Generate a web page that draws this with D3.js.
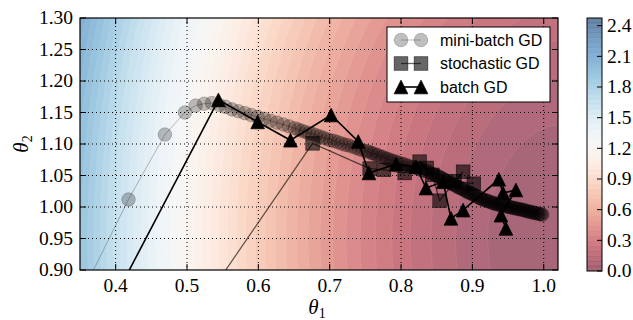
<!DOCTYPE html>
<html>
<head>
<meta charset="utf-8">
<script src="https://cdn.jsdelivr.net/npm/d3@7"></script>
<style>
  body { margin: 0; background: #fff; }
  svg { display: block; }
</style>
</head>
<body>
<div id="chart"></div>
<script>
// Gradient descent paths over a cost surface (theta1, theta2)

const xTicks    = [0.4, 0.5, 0.6, 0.7, 0.8, 0.9, 1.0];
const yTicks    = [0.90, 0.95, 1.00, 1.05, 1.10, 1.15, 1.20, 1.25, 1.30];
const cbarTicks = [0.0, 0.3, 0.6, 0.9, 1.2, 1.5, 1.8, 2.1, 2.4];

// cost surface: quadratic bowl
const costCenter  = [1.03, 0.95];
const costWeights = [4.2, 1.5];
const nLevels     = 50;
const levelMax    = 2.475;

const seriesNames = ["mini-batch GD", "stochastic GD", "batch GD"];

// [theta1, theta2]
const miniBatch = [
  [0.347,0.850],[0.418,1.012],[0.469,1.115],[0.497,1.150],[0.512,1.161],[0.524,1.164],[0.535,1.165],
  [0.545,1.162],[0.554,1.159],[0.563,1.155],[0.572,1.152],[0.581,1.149],[0.590,1.146],[0.599,1.143],
  [0.608,1.140],[0.617,1.137],[0.626,1.134],[0.635,1.131],[0.643,1.128],[0.651,1.125],
  [0.656,1.123],[0.661,1.121],[0.666,1.119],[0.671,1.117],[0.676,1.116],[0.681,1.114],[0.686,1.112],
  [0.691,1.110],[0.696,1.108],[0.701,1.106],[0.706,1.105],[0.711,1.103],[0.716,1.101],[0.721,1.099],
  [0.726,1.098],[0.731,1.096],[0.736,1.094],[0.741,1.092],[0.746,1.090],[0.751,1.089],
  [0.754,1.088],[0.758,1.086],[0.761,1.085],[0.765,1.083],[0.768,1.082],[0.772,1.080],[0.775,1.079],
  [0.779,1.077],[0.782,1.076],[0.786,1.074],[0.789,1.073],[0.793,1.072],[0.796,1.070],[0.800,1.069],
  [0.803,1.068],[0.807,1.067],[0.810,1.065],[0.814,1.064],[0.817,1.063],[0.821,1.062],[0.824,1.061],
  [0.828,1.059],[0.831,1.058],[0.835,1.057],[0.838,1.056],[0.842,1.054],[0.845,1.052],[0.849,1.050],
  [0.851,1.049],[0.853,1.048],[0.855,1.047],[0.857,1.046],[0.859,1.044],[0.861,1.043],[0.863,1.042],
  [0.865,1.041],[0.867,1.039],[0.869,1.038],[0.871,1.037],[0.873,1.036],[0.875,1.035],[0.877,1.034],
  [0.879,1.032],[0.881,1.031],[0.883,1.030],[0.885,1.029],[0.887,1.028],[0.889,1.027],[0.891,1.025],
  [0.893,1.024],[0.895,1.023],[0.897,1.022],[0.899,1.021],[0.901,1.020],[0.903,1.019],[0.905,1.018],
  [0.907,1.016],[0.909,1.015],[0.911,1.014],[0.913,1.013],[0.915,1.012],[0.917,1.011],[0.919,1.010],
  [0.921,1.010],[0.923,1.009],[0.925,1.008],[0.927,1.007],[0.929,1.006],[0.931,1.006],[0.933,1.005],
  [0.935,1.004],[0.937,1.004],[0.939,1.003],[0.941,1.003],[0.943,1.002],[0.945,1.002],[0.947,1.001],
  [0.949,1.001],[0.951,1.000],[0.953,1.000],[0.955,0.999],[0.957,0.999],[0.959,0.998],[0.961,0.998],
  [0.963,0.997],[0.965,0.997],[0.967,0.996],[0.969,0.996],[0.971,0.995],[0.973,0.995],[0.975,0.994],
  [0.977,0.993],[0.979,0.993],[0.981,0.992],[0.983,0.992],[0.985,0.991],[0.987,0.991],[0.989,0.990],
  [0.991,0.990],[0.993,0.989],[0.995,0.989],[0.997,0.988],[0.998,0.988]
];

const stochastic = [
  [0.524,0.850],[0.676,1.101],[0.756,1.061],[0.776,1.059],[0.805,1.054],[0.826,1.072],
  [0.836,1.062],[0.844,1.051],[0.854,1.010],[0.887,1.056],[0.875,1.041],[0.902,1.037]
];

const batch = [
  [0.396,0.850],[0.544,1.170],[0.599,1.135],[0.645,1.106],[0.702,1.146],[0.740,1.104],
  [0.755,1.054],[0.793,1.068],[0.821,1.064],[0.835,1.030],[0.859,1.040],[0.870,0.982],
  [0.887,0.995],[0.937,1.044],[0.943,1.022],[0.961,1.027],[0.940,0.987],[0.947,0.966]
];

const W = 633, H = 320;
const plot = { left: 80, right: 558, top: 18, bottom: 270 };
const pw = plot.right - plot.left, ph = plot.bottom - plot.top;

const serif = "'Liberation Serif', 'Times New Roman', serif";
const sans  = "'Liberation Sans', Arial, sans-serif";

const x = d3.scaleLinear().domain([0.35, 1.02]).range([plot.left, plot.right]);
const y = d3.scaleLinear().domain([0.90, 1.30]).range([plot.bottom, plot.top]);

const alpha = 0.6;
function levelColor(t) {
  const c = d3.rgb(d3.interpolateRdBu(t));
  return d3.rgb(
    c.r * alpha + 255 * (1 - alpha),
    c.g * alpha + 255 * (1 - alpha),
    c.b * alpha + 255 * (1 - alpha)
  ).formatHex();
}

function cost(t1, t2) {
  return costWeights[0] * (t1 - costCenter[0]) ** 2 + costWeights[1] * (t2 - costCenter[1]) ** 2;
}

const levelStep = levelMax / nLevels;
const levels = d3.range(nLevels).map(i => i * levelStep);

const svg = d3.select("#chart").append("svg")
  .attr("width", W).attr("height", H)
  .attr("viewBox", `0 0 ${W} ${H}`);

svg.append("defs").append("clipPath").attr("id", "plot-clip")
  .append("rect")
    .attr("x", plot.left).attr("y", plot.top)
    .attr("width", pw).attr("height", ph);

const inner = svg.append("g").attr("clip-path", "url(#plot-clip)");

// Filled contours
const nx = 180, ny = 100;
const grid = new Array(nx * ny);
for (let j = 0; j < ny; j++) {
  for (let i = 0; i < nx; i++) {
    const t1 = x.invert(plot.left + (i + 0.5) / nx * pw);
    const t2 = y.invert(plot.top + (j + 0.5) / ny * ph);
    grid[j * nx + i] = cost(t1, t2);
  }
}
const contours = d3.contours().size([nx, ny]).thresholds(levels)(grid);
const toPixels = d3.geoTransform({
  point(px, py) { this.stream.point(plot.left + px / nx * pw, plot.top + py / ny * ph); }
});
const contourPath = d3.geoPath(toPixels);

inner.append("rect")
  .attr("x", plot.left).attr("y", plot.top)
  .attr("width", pw).attr("height", ph)
  .attr("fill", levelColor(0.5 / nLevels));

inner.append("g").selectAll("path")
  .data(contours)
  .join("path")
    .attr("d", contourPath)
    .attr("fill", d => levelColor((d.value + levelStep / 2) / levelMax))
    .attr("stroke", "#fff")
    .attr("stroke-opacity", 0.12)
    .attr("stroke-width", 0.6);

// Grid lines
const gridG = inner.append("g")
  .attr("stroke", "#000").attr("stroke-width", 1)
  .attr("stroke-dasharray", "1,3");
xTicks.forEach(t => {
  gridG.append("line")
    .attr("x1", x(t)).attr("x2", x(t))
    .attr("y1", plot.top).attr("y2", plot.bottom);
});
yTicks.slice(1, -1).forEach(t => {
  gridG.append("line")
    .attr("x1", plot.left).attr("x2", plot.right)
    .attr("y1", y(t)).attr("y2", y(t));
});

// Markers
const R = 6.8;
function drawMarker(g, shape, px, py) {
  if (shape === "circle") {
    return g.append("circle").attr("cx", px).attr("cy", py).attr("r", R);
  }
  if (shape === "square") {
    return g.append("rect").attr("x", px - R).attr("y", py - R)
      .attr("width", 2 * R).attr("height", 2 * R);
  }
  return g.append("path")
    .attr("d", `M${px},${py - R}L${px + R},${py + R}L${px - R},${py + R}Z`);
}

const styles = [
  { data: miniBatch,  shape: "circle",   lineW: 1,   opacity: 0.25 },
  { data: stochastic, shape: "square",   lineW: 1.3, opacity: 0.6 },
  { data: batch,      shape: "triangle", lineW: 1.6, opacity: 1 }
];

const line = d3.line().x(d => x(d[0])).y(d => y(d[1]));

styles.forEach(s => {
  const g = inner.append("g");
  g.append("path")
    .attr("d", line(s.data))
    .attr("fill", "none")
    .attr("stroke", "#000")
    .attr("stroke-opacity", s.opacity)
    .attr("stroke-width", s.lineW);
  s.data.forEach(d => {
    drawMarker(g, s.shape, x(d[0]), y(d[1]))
      .attr("fill", "#000").attr("fill-opacity", s.opacity)
      .attr("stroke", "#000").attr("stroke-opacity", s.opacity)
      .attr("stroke-width", 0.8);
  });
});

// Frame and ticks (inside, all sides)
const axesG = svg.append("g").attr("stroke", "#000").attr("stroke-width", 1);
xTicks.forEach(t => {
  axesG.append("line").attr("x1", x(t)).attr("x2", x(t)).attr("y1", plot.bottom).attr("y2", plot.bottom - 6);
  axesG.append("line").attr("x1", x(t)).attr("x2", x(t)).attr("y1", plot.top).attr("y2", plot.top + 6);
});
yTicks.forEach(t => {
  axesG.append("line").attr("x1", plot.left).attr("x2", plot.left + 6).attr("y1", y(t)).attr("y2", y(t));
  axesG.append("line").attr("x1", plot.right).attr("x2", plot.right - 6).attr("y1", y(t)).attr("y2", y(t));
});
svg.append("rect")
  .attr("x", plot.left).attr("y", plot.top)
  .attr("width", pw).attr("height", ph)
  .attr("fill", "none").attr("stroke", "#000").attr("stroke-width", 1.2);

// Tick labels
svg.append("g").selectAll("text")
  .data(xTicks).join("text")
    .attr("x", d => x(d)).attr("y", 292)
    .attr("text-anchor", "middle")
    .attr("font-family", serif).attr("font-size", "19.5px")
    .text(d => d.toFixed(1));

svg.append("g").selectAll("text")
  .data(yTicks).join("text")
    .attr("x", plot.left - 7).attr("y", d => y(d))
    .attr("dy", "0.33em")
    .attr("text-anchor", "end")
    .attr("font-family", serif).attr("font-size", "19.5px")
    .text(d => d.toFixed(2));

// Axis labels
const xLab = svg.append("text")
  .attr("x", (plot.left + plot.right) / 2 - 2).attr("y", 314)
  .attr("text-anchor", "middle")
  .attr("font-family", serif);
xLab.append("tspan").attr("font-style", "italic").attr("font-size", "21px").text("θ");
xLab.append("tspan").attr("font-size", "14px").attr("dy", 4).text("1");

const yLab = svg.append("text")
  .attr("transform", `translate(28,${(plot.top + plot.bottom) / 2}) rotate(-90)`)
  .attr("text-anchor", "middle")
  .attr("font-family", serif);
yLab.append("tspan").attr("font-style", "italic").attr("font-size", "21px").text("θ");
yLab.append("tspan").attr("font-size", "14px").attr("dy", 4).text("2");

// Legend
const lg = svg.append("g");
lg.append("rect")
  .attr("x", 387).attr("y", 27).attr("width", 163).attr("height", 75)
  .attr("fill", "#fff").attr("stroke", "#000").attr("stroke-width", 1);
styles.forEach((s, i) => {
  const ly = 40 + i * 23.5;
  const g = lg.append("g");
  g.append("line")
    .attr("x1", 401).attr("x2", 421).attr("y1", ly).attr("y2", ly)
    .attr("stroke", "#000").attr("stroke-opacity", s.opacity)
    .attr("stroke-width", s.lineW);
  [401, 421].forEach(px => {
    drawMarker(g, s.shape, px, ly)
      .attr("fill", "#000").attr("fill-opacity", s.opacity)
      .attr("stroke", "#000").attr("stroke-opacity", s.opacity)
      .attr("stroke-width", 0.8);
  });
  lg.append("text")
    .attr("x", 440).attr("y", ly).attr("dy", "0.35em")
    .attr("font-family", sans).attr("font-size", "16px")
    .text(seriesNames[i]);
});

// Colorbar
const cb = { left: 587, width: 15, top: 18, bottom: 271 };
const cy = d3.scaleLinear().domain([0, levelMax]).range([cb.bottom, cb.top]);
const cbG = svg.append("g");
levels.forEach((lv, i) => {
  cbG.append("rect")
    .attr("x", cb.left).attr("y", cy(lv + levelStep))
    .attr("width", cb.width).attr("height", cy(lv) - cy(lv + levelStep))
    .attr("fill", levelColor((i + 0.5) / nLevels));
});
levels.slice(1).forEach(lv => {
  cbG.append("line")
    .attr("x1", cb.left).attr("x2", cb.left + cb.width)
    .attr("y1", cy(lv)).attr("y2", cy(lv))
    .attr("stroke", d3.interpolateRdBu(lv / levelMax))
    .attr("stroke-opacity", 0.35).attr("stroke-width", 0.7);
});
cbG.append("rect")
  .attr("x", cb.left).attr("y", cb.top)
  .attr("width", cb.width).attr("height", cb.bottom - cb.top)
  .attr("fill", "none").attr("stroke", "#000").attr("stroke-width", 1);
cbarTicks.forEach(t => {
  cbG.append("line")
    .attr("x1", cb.left + cb.width - 5).attr("x2", cb.left + cb.width)
    .attr("y1", cy(t)).attr("y2", cy(t))
    .attr("stroke", "#000").attr("stroke-width", 1);
  cbG.append("text")
    .attr("x", cb.left + cb.width + 5).attr("y", cy(t)).attr("dy", "0.33em")
    .attr("font-family", serif).attr("font-size", "19.5px")
    .text(t.toFixed(1));
});
</script>
</body>
</html>
